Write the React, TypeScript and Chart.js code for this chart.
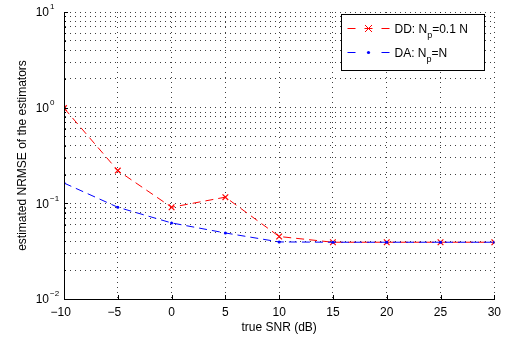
import { useEffect, useRef } from "react";
import { Chart, registerables } from "chart.js";

Chart.register(...registerables);

// ---- data ----
const snrDb = [-10, -5, 0, 5, 10, 15, 20, 25, 30];
const ddNrmse = [0.99, 0.22, 0.091, 0.116, 0.045, 0.0392, 0.0392, 0.0392, 0.0392];
const daNrmse = [0.163, 0.091, 0.0624, 0.049, 0.0395, 0.0392, 0.0392, 0.0392, 0.0392];
const xTickValues = [-10, -5, 0, 5, 10, 15, 20, 25, 30];
const yDecades = [0.01, 0.1, 1, 10];
const yExponents = ["\u22122", "\u22121", "0", "1"];
const legendNames = ["DD: N", "DA: N"];
const legendSubs = ["p", "p"];
const legendRests = ["=0.1 N", "=N"];
const seriesColors = ["rgb(255,0,0)", "rgb(0,0,255)"];
const xTitle = "true SNR (dB)";
const yTitle = "estimated NRMSE of the estimators";

const FONT = '"Liberation Sans", Arial, Helvetica, sans-serif';

function minorTicks(): number[] {
  const out: number[] = [];
  for (let e = -2; e < 1; e++) {
    for (let m = 1; m < 10; m++) out.push(m * Math.pow(10, e));
  }
  out.push(10);
  return out;
}

const matlabPlugin = {
  id: "matlabDecor",
  afterDraw(chart: any) {
    const { ctx, chartArea: a, scales } = chart;
    const xs = scales.x;
    const ys = scales.y;
    ctx.save();
    ctx.strokeStyle = "#000";
    ctx.lineWidth = 1;
    ctx.setLineDash([]);
    // solid axes (left and bottom)
    const L = Math.round(a.left) + 0.5;
    const B = Math.round(a.bottom) + 0.5;
    ctx.beginPath();
    ctx.moveTo(L, Math.round(a.top));
    ctx.lineTo(L, B);
    ctx.lineTo(Math.round(a.right) + 1, B);
    ctx.stroke();
    // inward ticks
    ctx.beginPath();
    for (const v of xTickValues) {
      const px = Math.round(xs.getPixelForValue(v)) + 0.5;
      ctx.moveTo(px, a.bottom);
      ctx.lineTo(px, a.bottom - 4);
    }
    for (const v of minorTicks()) {
      const py = Math.round(ys.getPixelForValue(v)) + 0.5;
      const major = yDecades.some((d) => Math.abs(d - v) / d < 1e-6);
      ctx.moveTo(a.left, py);
      ctx.lineTo(a.left + (major ? 4 : 2), py);
    }
    ctx.stroke();

    // y tick labels: 10^n
    ctx.fillStyle = "#000";
    yDecades.forEach((d, i) => {
      const py = ys.getPixelForValue(d);
      ctx.font = `12px ${FONT}`;
      ctx.textAlign = "right";
      ctx.textBaseline = "middle";
      ctx.fillText("10", a.left - 15, py + 1);
      ctx.font = `8px ${FONT}`;
      ctx.textAlign = "left";
      ctx.fillText(yExponents[i], a.left - 14, py - 5);
    });

    // legend
    const lw = 143;
    const lh = 56;
    const lx = Math.round(a.right - 10 - lw) + 0.5;
    const ly = Math.round(a.top + 2) + 0.5;
    ctx.fillStyle = "#fff";
    ctx.fillRect(lx, ly, lw, lh);
    ctx.strokeStyle = "#000";
    ctx.lineWidth = 1;
    ctx.strokeRect(lx, ly, lw, lh);
    const rows = [ly + 14, ly + 38];
    rows.forEach((ry, i) => {
      const color = seriesColors[i];
      ctx.strokeStyle = color;
      ctx.beginPath();
      ctx.moveTo(lx + 6, ry);
      ctx.lineTo(lx + 14, ry);
      ctx.moveTo(lx + 40, ry);
      ctx.lineTo(lx + 48, ry);
      ctx.stroke();
      const cx = lx + 27;
      if (i === 0) {
        ctx.beginPath();
        ctx.moveTo(cx - 3.5, ry - 3.5);
        ctx.lineTo(cx + 3.5, ry + 3.5);
        ctx.moveTo(cx - 3.5, ry + 3.5);
        ctx.lineTo(cx + 3.5, ry - 3.5);
        ctx.moveTo(cx - 4, ry);
        ctx.lineTo(cx + 4, ry);
        ctx.stroke();
      } else {
        ctx.fillStyle = color;
        ctx.beginPath();
        ctx.arc(cx, ry, 1.6, 0, Math.PI * 2);
        ctx.fill();
      }
      ctx.fillStyle = "#000";
      ctx.textAlign = "left";
      ctx.textBaseline = "alphabetic";
      let tx = lx + 53;
      ctx.font = `12px ${FONT}`;
      ctx.fillText(legendNames[i], tx, ry + 4.5);
      tx += ctx.measureText(legendNames[i]).width;
      ctx.font = `9px ${FONT}`;
      ctx.fillText(legendSubs[i], tx, ry + 9);
      tx += ctx.measureText(legendSubs[i]).width;
      ctx.font = `12px ${FONT}`;
      ctx.fillText(legendRests[i], tx, ry + 4.5);
    });
    ctx.restore();
  },
};

export default function App() {
  const ref = useRef<HTMLCanvasElement | null>(null);
  useEffect(() => {
    if (!ref.current) return;
    const gridColor = "rgba(0,0,0,0.75)";
    const dotted = [1, 4];
    const chart = new Chart(ref.current, {
      type: "line",
      data: {
        datasets: [
          {
            label: "DD: Np=0.1 N",
            data: snrDb.map((x, i) => ({ x, y: ddNrmse[i] })),
            borderColor: seriesColors[0],
            backgroundColor: seriesColors[0],
            borderWidth: 1,
            borderDash: [8, 5],
            pointStyle: "crossRot",
            pointRadius: 4,
            pointBorderWidth: 1.2,
            pointBorderColor: seriesColors[0],
            tension: 0,
            fill: false,
            order: 2,
          },
          {
            label: "DA: Np=N",
            data: snrDb.map((x, i) => ({ x, y: daNrmse[i] })),
            borderColor: seriesColors[1],
            backgroundColor: seriesColors[1],
            borderWidth: 1,
            borderDash: [8, 5],
            pointStyle: "circle",
            pointRadius: 1.5,
            pointBorderWidth: 0,
            tension: 0,
            fill: false,
            order: 1,
          },
        ],
      },
      options: {
        responsive: false,
        animation: false,
        layout: { padding: { left: 0, right: 10, top: 12, bottom: 0 } },
        plugins: { legend: { display: false }, tooltip: { enabled: false } },
        scales: {
          x: {
            type: "linear",
            min: -10,
            max: 30,
            afterBuildTicks: (s: any) => {
              s.ticks = xTickValues.map((v) => ({ value: v }));
            },
            afterFit: (s: any) => {
              s.height = 40;
            },
            ticks: {
              color: "#000",
              font: { family: FONT, size: 12 },
              padding: 6,
              maxRotation: 0,
              callback: (v: any) =>
                Number(v) < 0 ? "\u2212" + Math.abs(Number(v)) + "\u2007" : String(v),
            },
            grid: { color: gridColor, drawTicks: false },
            border: { display: true, color: "#000", width: 1, dash: dotted },
            title: {
              display: true,
              text: xTitle,
              color: "#000",
              font: { family: FONT, size: 12 },
              padding: { top: 0, bottom: 4 },
            },
          },
          y: {
            type: "logarithmic",
            min: 0.01,
            max: 10,
            afterBuildTicks: (s: any) => {
              s.ticks = minorTicks().map((v) => ({ value: v }));
            },
            afterFit: (s: any) => {
              s.width = 64;
            },
            ticks: { display: false },
            grid: { color: gridColor, drawTicks: false },
            border: { display: true, color: "#000", width: 1, dash: dotted },
            title: {
              display: true,
              text: yTitle,
              color: "#000",
              font: { family: FONT, size: 12 },
              padding: { top: 15, bottom: 0 },
            },
          },
        },
      },
      plugins: [matlabPlugin],
    } as any);
    return () => chart.destroy();
  }, []);
  return (
    <div style={{ position: "absolute", left: 0, top: 0, width: 507, height: 339, background: "#fff" }}>
      <canvas ref={ref} width={507} height={339} style={{ display: "block" }} />
    </div>
  );
}
